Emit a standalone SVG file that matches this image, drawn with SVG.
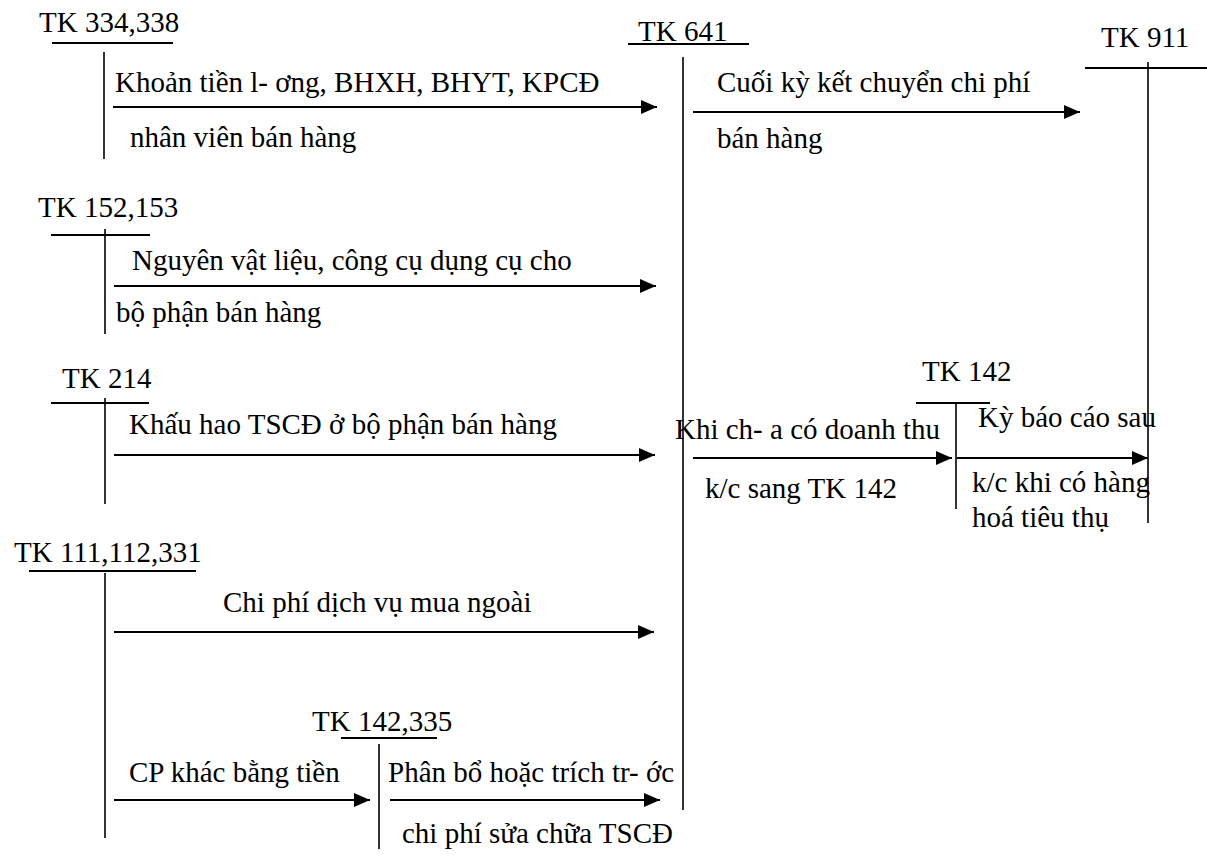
<svg xmlns="http://www.w3.org/2000/svg" width="1207" height="855" viewBox="0 0 1207 855" font-family="'Liberation Serif','Times New Roman',serif">
<style>
text{font-family:"Liberation Serif","Times New Roman",serif;font-size:29px;fill:#000}
.t{stroke:#000;stroke-width:2;fill:none}
.v{stroke:#000;stroke-width:1.6;fill:none}
.a{stroke:#000;stroke-width:2.2;fill:none;marker-end:url(#ah)}
</style>
<defs>
<marker id="ah" markerUnits="userSpaceOnUse" markerWidth="16" markerHeight="14" refX="16" refY="7" orient="auto">
<path d="M0,0 L16,7 L0,14 z" fill="#000"/>
</marker>
</defs>
<rect width="1207" height="855" fill="#fff"/>

<g id="tk334">
<text x="39" y="32">TK 334,338</text>
<line class="t" x1="52" y1="43" x2="173" y2="43"/>
<line class="v" x1="104" y1="52" x2="104" y2="159"/>
</g>
<g id="tk641">
<text x="638" y="41">TK 641</text>
<line class="t" x1="628" y1="44" x2="749" y2="44"/>
<line class="v" x1="683" y1="57" x2="683" y2="810"/>
</g>
<g id="tk911">
<text x="1101" y="47">TK 911</text>
<line class="t" x1="1085" y1="68" x2="1207" y2="68"/>
<line class="v" x1="1148" y1="62" x2="1148" y2="523"/>
</g>
<g id="tk152">
<text x="38" y="217">TK 152,153</text>
<line class="t" x1="51" y1="235" x2="150" y2="235"/>
<line class="v" x1="105" y1="229" x2="105" y2="334"/>
</g>
<g id="tk214">
<text x="62" y="388">TK 214</text>
<line class="t" x1="51" y1="403" x2="149" y2="403"/>
<line class="v" x1="105" y1="398" x2="105" y2="504"/>
</g>
<g id="tk142">
<text x="922" y="381">TK 142</text>
<line class="t" x1="916" y1="403" x2="990" y2="403"/>
<line class="v" x1="956" y1="402" x2="956" y2="509"/>
</g>
<g id="tk111">
<text x="14" y="562">TK 111,112,331</text>
<line class="t" x1="29" y1="571" x2="196" y2="571"/>
<line class="v" x1="105" y1="573" x2="105" y2="838"/>
</g>
<g id="tk142335">
<text x="312" y="731">TK 142,335</text>
<line class="t" x1="341" y1="738" x2="437" y2="738"/>
<line class="v" x1="379" y1="744" x2="379" y2="849"/>
</g>

<g id="connectors">
<line class="a" x1="113" y1="107" x2="657" y2="107"/>
<line class="a" x1="693" y1="112" x2="1080" y2="112"/>
<line class="a" x1="114" y1="286" x2="656" y2="286"/>
<line class="a" x1="114" y1="455" x2="655" y2="455"/>
<line class="a" x1="693" y1="458" x2="952" y2="458"/>
<line class="a" x1="957" y1="458" x2="1148" y2="458"/>
<line class="a" x1="114" y1="632" x2="654" y2="632"/>
<line class="a" x1="114" y1="800" x2="370" y2="800"/>
<line class="a" x1="390" y1="800" x2="660" y2="800"/>
</g>

<g id="labels">
<text x="115" y="92">Khoản tiền l- ơng, BHXH, BHYT, KPCĐ</text>
<text x="130" y="147">nhân viên bán hàng</text>
<text x="717" y="92">Cuối kỳ kết chuyển chi phí</text>
<text x="717" y="148">bán hàng</text>
<text x="132" y="270">Nguyên vật liệu, công cụ dụng cụ cho</text>
<text x="116" y="322">bộ phận bán hàng</text>
<text x="129" y="434">Khấu hao TSCĐ ở bộ phận bán hàng</text>
<text x="675" y="439">Khi ch- a có doanh thu</text>
<text x="705" y="498">k/c sang TK 142</text>
<text x="978" y="427">Kỳ báo cáo sau</text>
<text x="972" y="492">k/c khi có hàng</text>
<text x="972" y="527">hoá tiêu thụ</text>
<text x="223" y="612">Chi phí dịch vụ mua ngoài</text>
<text x="129" y="782">CP khác bằng tiền</text>
<text x="388" y="782">Phân bổ hoặc trích tr- ớc</text>
<text x="402" y="843">chi phí sửa chữa TSCĐ</text>
</g>
</svg>
